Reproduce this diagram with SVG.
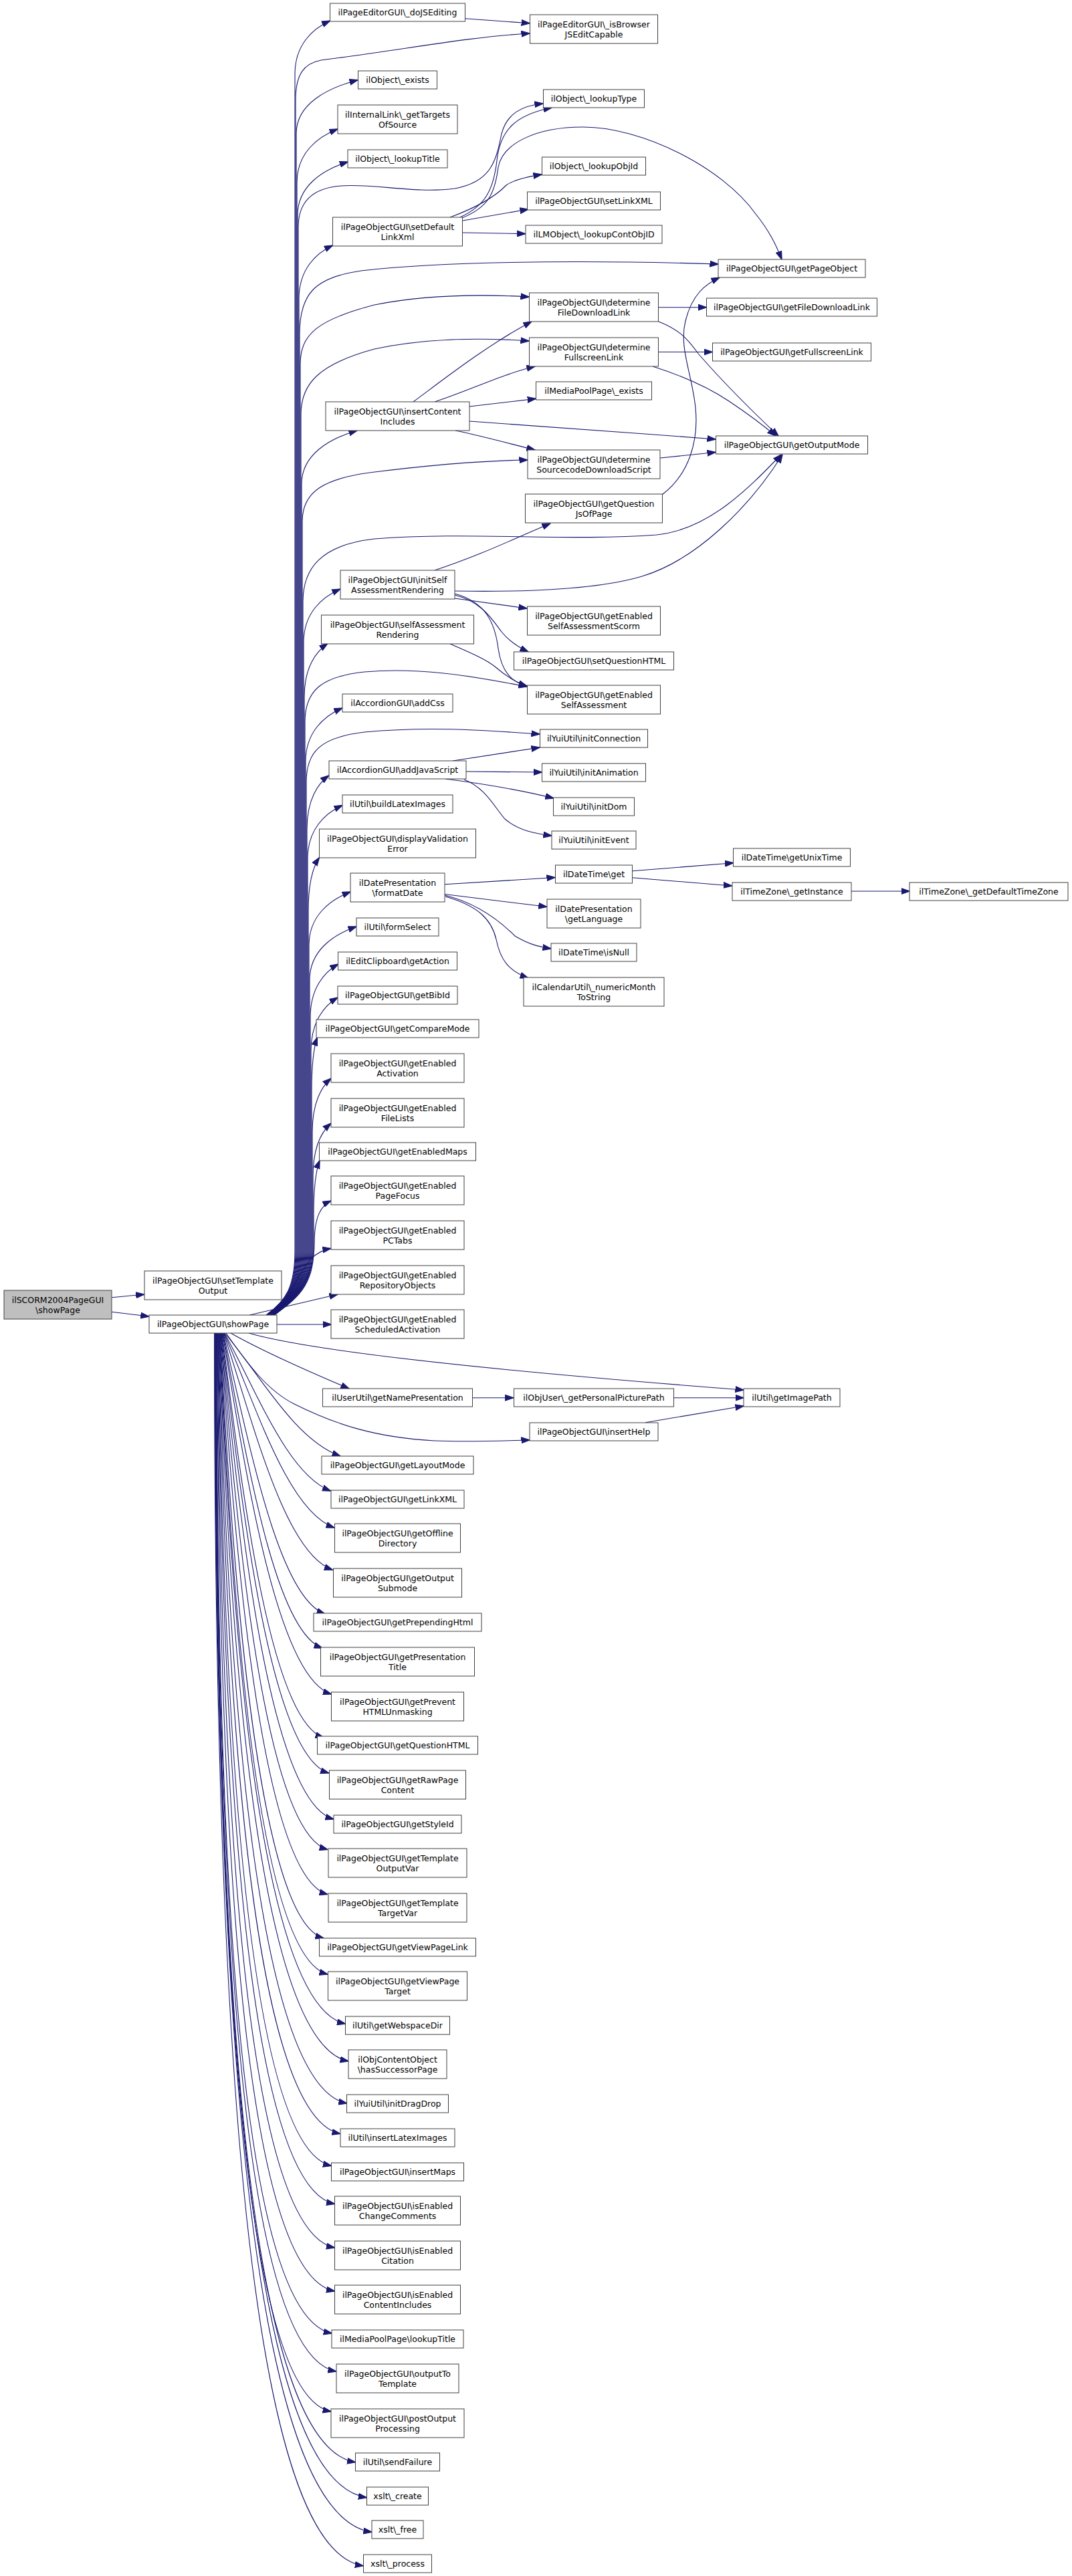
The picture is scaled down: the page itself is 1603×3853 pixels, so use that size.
<svg xmlns="http://www.w3.org/2000/svg" width="1603" height="3853" viewBox="0 0 1603 3853">
<defs>
<marker id="ah" viewBox="0 0 13 10" refX="12.5" refY="5" markerWidth="13" markerHeight="10" markerUnits="userSpaceOnUse" orient="auto"><path d="M0,0.5 L13,5 L0,9.5 Z" fill="#191970" stroke="#191970" stroke-width="1"/></marker>
</defs>
<style>
.n rect{fill:#ffffff;stroke:#404040;stroke-width:1}
.r rect{fill:#bfbfbf;stroke:#404040;stroke-width:1}
text{font-family:"DejaVu Sans","Liberation Sans",sans-serif;font-size:12.5px;text-anchor:middle;fill:#000000}
#edges path{fill:none;stroke:#191970;stroke-width:1.1;marker-end:url(#ah)}
</style>
<rect x="0" y="0" width="1603" height="3853" fill="#ffffff"/>
<g id="edges">
<path d="M167,1940.7 L215.7,1936"/>
<path d="M167,1962.3 L222.7,1969"/>
<path d="M398,1967 C428,1945 441,1925 441,1870 L441,111 C441,67 467.3,43 493.6,31"/>
<path d="M398.5,1967 C428.5,1945 443,1925 443,1870 L443,199.7 C443,155.7 489,131.7 535,119.7"/>
<path d="M399,1967 C429,1945 444,1925 444,1870 L444,273 C444,229 474.5,205 505,193"/>
<path d="M399.5,1967 C429.5,1945 445,1925 445,1870 L445,322 C445,278 482.7,254 520.4,242"/>
<path d="M400.5,1967 C430.5,1945 447,1925 447,1870 L447,447 C447,403 472.2,379 497.4,367"/>
<path d="M402,1967 C432,1945 451,1925 451,1870 L451,724 C451,680 492.5,656 534,644"/>
<path d="M403.5,1967 C433.5,1945 454,1925 454,1870 L454,961 C454,917 481.5,893 508.9,881"/>
<path d="M404,1967 C434,1945 455,1925 455,1870 L455,1042.5 C455,998.5 472.5,974.5 490,962.5"/>
<path d="M404.5,1967 C434.5,1945 457,1925 457,1870 L457,1139 C457,1095 484.5,1071 512,1059"/>
<path d="M405,1967 C435,1945 459,1925 459,1870 L459,1240 C459,1196 475.4,1172 491.7,1160"/>
<path d="M405.5,1967 C435.5,1945 460,1925 460,1870 L460,1284.5 C460,1240.5 486,1216.5 512,1204.5"/>
<path d="M406,1967 C436,1945 461,1925 461,1870 L461,1362.6 C461,1318.6 469.3,1294.6 477.5,1282.6"/>
<path d="M406.5,1967 C436.5,1945 462,1925 462,1870 L462,1414 C462,1370 493.1,1346 524.2,1334"/>
<path d="M407,1967 C437,1945 463,1925 463,1870 L463,1466 C463,1422 498,1398 533,1386"/>
<path d="M407.5,1967 C437.5,1945 464,1925 464,1870 L464,1522 C464,1478 484.9,1454 505.8,1442"/>
<path d="M408,1967 C438,1945 465,1925 465,1870 L465,1572 C465,1528 485,1504 505,1492"/>
<path d="M408.5,1967 C438.5,1945 466,1925 466,1870 L466,1631.8 C466,1587.8 470.2,1563.8 474.4,1551.8"/>
<path d="M409,1967 C439,1945 467,1925 467,1870 L467,1693 C467,1649 481,1625 495,1613"/>
<path d="M409.5,1967 C439.5,1945 468,1925 468,1870 L468,1760 C468,1716 481.5,1692 495,1680"/>
<path d="M410,1967 C440,1945 469,1925 469,1870 L469,1815.7 C469,1771.7 473.5,1747.7 478,1735.7"/>
<path d="M410.5,1967 C440.5,1945 470,1910 470,1860 C470,1820 480,1803 495,1796"/>
<path d="M411,1967 C430,1940 450,1900 465,1883 C475,1873 485,1869 495,1867.4"/>
<path d="M373,1967 L505,1936"/>
<path d="M414,1981 L495.5,1981"/>
<path d="M398.2,1967 C428.2,1945 442,1925 442,1870 L442,150 C442,110 455,95 480,90 C600,75 700,55 792,50"/>
<path d="M400,1967 C430,1945 446,1925 446,1870 L446,340 C446,300 470,281 510,278 C560,274 620,290 680,282 C735,272 742,240 750,200 C758,170 780,158 812,155"/>
<path d="M401,1967 C431,1945 448,1925 448,1870 L448,500 C448,440 470,415 540,405 C650,392 850,388 1074,395"/>
<path d="M401.5,1967 C431.5,1945 449,1925 449,1870 L449,545 C449,500 475,478 560,456 C640,440 720,440 791,444"/>
<path d="M402,1967 C432,1945 450,1925 450,1870 L450,620 C450,575 475,545 560,522 C640,505 720,505 791,510"/>
<path d="M402.5,1967 C432.5,1945 452,1925 452,1870 L452,780 C452,735 485,715 560,706 C640,696 720,689 789,688"/>
<path d="M403,1967 C433,1945 453,1925 453,1870 L453,900 C453,850 480,815 560,806 C700,795 850,810 982,800 C1060,792 1120,730 1168,680"/>
<path d="M404.2,1967 C434.2,1945 456,1925 456,1870 L456,1080 C456,1035 478,1012 545,1005 C625,998 700,1010 788,1027"/>
<path d="M405.2,1967 C435.2,1945 458,1925 458,1870 L458,1170 C458,1125 478,1103 545,1095 C640,1086 720,1092 807,1098"/>
<path d="M695.3,27.7 L792.1,34.8"/>
<path d="M688,325 C725,308 738,285 743,240 C748,195 770,172 825,161"/>
<path d="M691,326 C730,310 740,290 745,250 C752,215 800,190 872,190 C960,190 1080,250 1130,320 C1150,345 1160,365 1169,388"/>
<path d="M673,325 C700,315 735,300 757,277 C770,268 790,264 810,261"/>
<path d="M692,330 L790,313"/>
<path d="M691,348 L785.6,349.6"/>
<path d="M618,601 C660,570 730,515 795,481"/>
<path d="M650,601 C700,585 750,560 800,548"/>
<path d="M702,608 L801.3,596.4"/>
<path d="M702,630 C850,640 950,648 1070,657"/>
<path d="M681,644 C720,652 760,663 800,673"/>
<path d="M984.6,459.7 L1056.5,459.7"/>
<path d="M985,481 C1020,495 1030,510 1045,530 C1080,570 1130,620 1164,652"/>
<path d="M984.6,526.5 L1065.3,526.5"/>
<path d="M976,548 C1020,562 1060,580 1090,600 C1120,620 1140,635 1160,652"/>
<path d="M987,685 L1070,676.5"/>
<path d="M990,740 C1030,710 1045,660 1040,610 C1035,560 1015,520 1025,480 C1035,440 1055,425 1076,415"/>
<path d="M680,884 C800,886 900,880 960,862 C1040,838 1120,760 1170,680"/>
<path d="M650,853 C720,830 770,805 823,783"/>
<path d="M680,895 L788,910"/>
<path d="M680,890 C720,900 735,925 750,945 C762,960 775,968 790,975"/>
<path d="M680,888 C725,900 740,930 745,970 C750,1005 765,1020 788,1026"/>
<path d="M673,963 C700,975 725,985 740,997 C755,1010 770,1020 788,1027"/>
<path d="M677,1138 L807,1118"/>
<path d="M697,1154 L810.5,1155"/>
<path d="M666,1165 C720,1172 780,1182 828,1194"/>
<path d="M694,1166 C725,1178 738,1205 755,1225 C775,1242 800,1247 825,1250"/>
<path d="M665,1322.8 L830,1312.5"/>
<path d="M665,1337.5 L817.7,1356.3"/>
<path d="M665,1339 C710,1350 745,1375 770,1400 C790,1412 805,1416 824,1419"/>
<path d="M666,1341 C715,1355 735,1375 742,1405 C748,1435 760,1452 790,1463"/>
<path d="M945.3,1302.7 L1096.6,1290.7"/>
<path d="M945.3,1312.7 L1094.4,1325"/>
<path d="M1272.7,1333 L1360.2,1333"/>
<path d="M707,2090.7 L767.8,2090.7"/>
<path d="M1007,2090.7 L1112,2090.7"/>
<path d="M965,2127.7 L1112,2103"/>
<path d="M372,1994 C480,2025 800,2055 1112,2079"/>
<path d="M345,1994 C400,2025 470,2055 522,2077"/>
<path d="M338,1994 C370,2040 400,2080 440,2100 C500,2130 560,2150 650,2155 C700,2157 750,2155 792,2154"/>
<path d="M336,1994 C389,2056 440,2153 509,2178"/>
<path d="M335.5,1994 C382,2076 429,2205 494.5,2230"/>
<path d="M335,1994 C381.5,2098 429.4,2260 500,2285"/>
<path d="M334.4,1994 C378,2125 425,2323 497.4,2348"/>
<path d="M333.8,1994 C372,2155 415.6,2389 486,2414"/>
<path d="M333.2,1994 C369,2180 411,2440 482,2465"/>
<path d="M332.7,1994 C369,2214 415,2509 495.5,2534"/>
<path d="M332,1994 C364,2249 406,2574 484,2599"/>
<path d="M331.6,1994 C363,2278 407.5,2627 491.7,2652"/>
<path d="M331,1994 C361,2318 407.6,2696 499,2721"/>
<path d="M330.5,1994 C357.5,2345 401.3,2741.5 490,2766.5"/>
<path d="M330,1994 C354.6,2387 398.2,2808.5 490,2833.5"/>
<path d="M329.4,1994 C351,2429 392.6,2874 484,2899"/>
<path d="M328.9,1994 C349.2,2466 392.4,2928 490,2953"/>
<path d="M328.3,1994 C348.8,2518 398.7,3002 516.5,3027"/>
<path d="M327.8,1994 C346.3,2558 397.3,3058 521,3083"/>
<path d="M327.2,1994 C342.8,2605 392.9,3121 518.8,3146"/>
<path d="M326.7,1994 C339.6,2640 387,3166.5 508.9,3191.5"/>
<path d="M326.1,1994 C336.2,2678 380,3214.4 495.5,3239.4"/>
<path d="M325.6,1994 C333.7,2723.5 378.6,3271.5 500.5,3296.5"/>
<path d="M325,1994 C330.4,2779 375,3337 500.5,3362"/>
<path d="M324.5,1994 C327.3,2834 371.7,3402 500.5,3427"/>
<path d="M323.9,1994 C323.9,2891.6 367,3465 496.3,3490"/>
<path d="M323.4,1994 C323.4,2925.8 368.3,3522 502.8,3547"/>
<path d="M322.8,1994 C322.8,2961.8 365.8,3582 495,3607"/>
<path d="M322.3,1994 C322.3,3007.3 374.6,3657.8 531.5,3682.8"/>
<path d="M321.7,1994 C321.7,3039 378.4,3710.6 548.3,3735.6"/>
<path d="M321.2,1994 C321.2,3070 379.9,3762.3 556,3787.3"/>
<path d="M320.6,1994 C320.6,3100.3 376.3,3812.8 543.3,3837.8"/>
</g>
<g id="root" class="r"><rect x="6" y="1930" width="161" height="43"/><text x="86.5" y="1948.5">ilSCORM2004PageGUI</text><text x="86.5" y="1964">\showPage</text></g>
<g id="setTemplateOutput" class="n"><rect x="216" y="1901" width="205" height="43"/><text x="318.5" y="1919.5">ilPageObjectGUI\setTemplate</text><text x="318.5" y="1935">Output</text></g>
<g id="showPage" class="n"><rect x="223" y="1967" width="191" height="27"/><text x="318.5" y="1985">ilPageObjectGUI\showPage</text></g>
<g id="doJSEditing" class="n"><rect x="493.5" y="5" width="202" height="27"/><text x="594.5" y="23">ilPageEditorGUI\_doJSEditing</text></g>
<g id="objExists" class="n"><rect x="535.5" y="106" width="118" height="27"/><text x="594.5" y="124">ilObject\_exists</text></g>
<g id="getTargetsOfSource" class="n"><rect x="505" y="157" width="179" height="43"/><text x="594.5" y="175.5">ilInternalLink\_getTargets</text><text x="594.5" y="191">OfSource</text></g>
<g id="lookupTitle" class="n"><rect x="520" y="224" width="149" height="27"/><text x="594.5" y="242">ilObject\_lookupTitle</text></g>
<g id="setDefaultLinkXml" class="n"><rect x="497.5" y="325" width="194" height="43"/><text x="594.5" y="343.5">ilPageObjectGUI\setDefault</text><text x="594.5" y="359">LinkXml</text></g>
<g id="insertContentIncludes" class="n"><rect x="487" y="601" width="215" height="43"/><text x="594.5" y="619.5">ilPageObjectGUI\insertContent</text><text x="594.5" y="635">Includes</text></g>
<g id="initSelfAssessmentRendering" class="n"><rect x="509" y="853" width="171" height="43"/><text x="594.5" y="871.5">ilPageObjectGUI\initSelf</text><text x="594.5" y="887">AssessmentRendering</text></g>
<g id="selfAssessmentRendering" class="n"><rect x="480.5" y="920" width="228" height="43"/><text x="594.5" y="938.5">ilPageObjectGUI\selfAssessment</text><text x="594.5" y="954">Rendering</text></g>
<g id="addCss" class="n"><rect x="512" y="1038" width="165" height="27"/><text x="594.5" y="1056">ilAccordionGUI\addCss</text></g>
<g id="addJavaScript" class="n"><rect x="492" y="1138" width="205" height="27"/><text x="594.5" y="1156">ilAccordionGUI\addJavaScript</text></g>
<g id="buildLatexImages" class="n"><rect x="512" y="1189" width="165" height="27"/><text x="594.5" y="1207">ilUtil\buildLatexImages</text></g>
<g id="displayValidationError" class="n"><rect x="477.5" y="1240" width="234" height="43"/><text x="594.5" y="1258.5">ilPageObjectGUI\displayValidation</text><text x="594.5" y="1274">Error</text></g>
<g id="formatDate" class="n"><rect x="524" y="1306" width="141" height="43"/><text x="594.5" y="1324.5">ilDatePresentation</text><text x="594.5" y="1340">\formatDate</text></g>
<g id="formSelect" class="n"><rect x="533" y="1373" width="123" height="27"/><text x="594.5" y="1391">ilUtil\formSelect</text></g>
<g id="getAction" class="n"><rect x="505.5" y="1424" width="178" height="27"/><text x="594.5" y="1442">ilEditClipboard\getAction</text></g>
<g id="getBibId" class="n"><rect x="505" y="1475" width="179" height="27"/><text x="594.5" y="1493">ilPageObjectGUI\getBibId</text></g>
<g id="getCompareMode" class="n"><rect x="473" y="1525" width="243" height="27"/><text x="594.5" y="1543">ilPageObjectGUI\getCompareMode</text></g>
<g id="getEnabledActivation" class="n"><rect x="495" y="1576" width="199" height="43"/><text x="594.5" y="1594.5">ilPageObjectGUI\getEnabled</text><text x="594.5" y="1610">Activation</text></g>
<g id="getEnabledFileLists" class="n"><rect x="495" y="1643" width="199" height="43"/><text x="594.5" y="1661.5">ilPageObjectGUI\getEnabled</text><text x="594.5" y="1677">FileLists</text></g>
<g id="getEnabledMaps" class="n"><rect x="477.5" y="1709" width="234" height="27"/><text x="594.5" y="1727">ilPageObjectGUI\getEnabledMaps</text></g>
<g id="getEnabledPageFocus" class="n"><rect x="495" y="1759" width="199" height="43"/><text x="594.5" y="1777.5">ilPageObjectGUI\getEnabled</text><text x="594.5" y="1793">PageFocus</text></g>
<g id="getEnabledPCTabs" class="n"><rect x="495" y="1826" width="199" height="43"/><text x="594.5" y="1844.5">ilPageObjectGUI\getEnabled</text><text x="594.5" y="1860">PCTabs</text></g>
<g id="getEnabledRepositoryObjects" class="n"><rect x="495" y="1893" width="199" height="43"/><text x="594.5" y="1911.5">ilPageObjectGUI\getEnabled</text><text x="594.5" y="1927">RepositoryObjects</text></g>
<g id="getEnabledScheduledActivation" class="n"><rect x="495" y="1959" width="199" height="43"/><text x="594.5" y="1977.5">ilPageObjectGUI\getEnabled</text><text x="594.5" y="1993">ScheduledActivation</text></g>
<g id="getNamePresentation" class="n"><rect x="482.5" y="2077" width="224" height="27"/><text x="594.5" y="2095">ilUserUtil\getNamePresentation</text></g>
<g id="getLayoutMode" class="n"><rect x="481" y="2178" width="227" height="27"/><text x="594.5" y="2196">ilPageObjectGUI\getLayoutMode</text></g>
<g id="getLinkXML" class="n"><rect x="495" y="2229" width="199" height="27"/><text x="594.5" y="2247">ilPageObjectGUI\getLinkXML</text></g>
<g id="getOfflineDirectory" class="n"><rect x="500.5" y="2279" width="188" height="43"/><text x="594.5" y="2297.5">ilPageObjectGUI\getOffline</text><text x="594.5" y="2313">Directory</text></g>
<g id="getOutputSubmode" class="n"><rect x="498.5" y="2346" width="192" height="43"/><text x="594.5" y="2364.5">ilPageObjectGUI\getOutput</text><text x="594.5" y="2380">Submode</text></g>
<g id="getPrependingHtml" class="n"><rect x="469" y="2413" width="251" height="27"/><text x="594.5" y="2431">ilPageObjectGUI\getPrependingHtml</text></g>
<g id="getPresentationTitle" class="n"><rect x="479.5" y="2464" width="230" height="43"/><text x="594.5" y="2482.5">ilPageObjectGUI\getPresentation</text><text x="594.5" y="2498">Title</text></g>
<g id="getPreventHTMLUnmasking" class="n"><rect x="495.5" y="2531" width="198" height="43"/><text x="594.5" y="2549.5">ilPageObjectGUI\getPrevent</text><text x="594.5" y="2565">HTMLUnmasking</text></g>
<g id="getQuestionHTML" class="n"><rect x="474.5" y="2597" width="240" height="27"/><text x="594.5" y="2615">ilPageObjectGUI\getQuestionHTML</text></g>
<g id="getRawPageContent" class="n"><rect x="492.5" y="2648" width="204" height="43"/><text x="594.5" y="2666.5">ilPageObjectGUI\getRawPage</text><text x="594.5" y="2682">Content</text></g>
<g id="getStyleId" class="n"><rect x="499" y="2715" width="191" height="27"/><text x="594.5" y="2733">ilPageObjectGUI\getStyleId</text></g>
<g id="getTemplateOutputVar" class="n"><rect x="491" y="2765" width="207" height="43"/><text x="594.5" y="2783.5">ilPageObjectGUI\getTemplate</text><text x="594.5" y="2799">OutputVar</text></g>
<g id="getTemplateTargetVar" class="n"><rect x="491" y="2832" width="207" height="43"/><text x="594.5" y="2850.5">ilPageObjectGUI\getTemplate</text><text x="594.5" y="2866">TargetVar</text></g>
<g id="getViewPageLink" class="n"><rect x="477.5" y="2899" width="234" height="27"/><text x="594.5" y="2917">ilPageObjectGUI\getViewPageLink</text></g>
<g id="getViewPageTarget" class="n"><rect x="490.5" y="2949" width="208" height="43"/><text x="594.5" y="2967.5">ilPageObjectGUI\getViewPage</text><text x="594.5" y="2983">Target</text></g>
<g id="getWebspaceDir" class="n"><rect x="516.5" y="3016" width="156" height="27"/><text x="594.5" y="3034">ilUtil\getWebspaceDir</text></g>
<g id="hasSuccessorPage" class="n"><rect x="521" y="3066" width="147" height="43"/><text x="594.5" y="3084.5">ilObjContentObject</text><text x="594.5" y="3100">\hasSuccessorPage</text></g>
<g id="initDragDrop" class="n"><rect x="518.5" y="3133" width="152" height="27"/><text x="594.5" y="3151">ilYuiUtil\initDragDrop</text></g>
<g id="insertLatexImages" class="n"><rect x="509" y="3184" width="171" height="27"/><text x="594.5" y="3202">ilUtil\insertLatexImages</text></g>
<g id="insertMaps" class="n"><rect x="495.5" y="3235" width="198" height="27"/><text x="594.5" y="3253">ilPageObjectGUI\insertMaps</text></g>
<g id="isEnabledChangeComments" class="n"><rect x="500.5" y="3285" width="188" height="43"/><text x="594.5" y="3303.5">ilPageObjectGUI\isEnabled</text><text x="594.5" y="3319">ChangeComments</text></g>
<g id="isEnabledCitation" class="n"><rect x="500.5" y="3352" width="188" height="43"/><text x="594.5" y="3370.5">ilPageObjectGUI\isEnabled</text><text x="594.5" y="3386">Citation</text></g>
<g id="isEnabledContentIncludes" class="n"><rect x="500.5" y="3418" width="188" height="43"/><text x="594.5" y="3436.5">ilPageObjectGUI\isEnabled</text><text x="594.5" y="3452">ContentIncludes</text></g>
<g id="mpLookupTitle" class="n"><rect x="496" y="3485" width="197" height="27"/><text x="594.5" y="3503">ilMediaPoolPage\lookupTitle</text></g>
<g id="outputToTemplate" class="n"><rect x="503" y="3536" width="183" height="43"/><text x="594.5" y="3554.5">ilPageObjectGUI\outputTo</text><text x="594.5" y="3570">Template</text></g>
<g id="postOutputProcessing" class="n"><rect x="495" y="3603" width="199" height="43"/><text x="594.5" y="3621.5">ilPageObjectGUI\postOutput</text><text x="594.5" y="3637">Processing</text></g>
<g id="sendFailure" class="n"><rect x="531.5" y="3669" width="126" height="27"/><text x="594.5" y="3687">ilUtil\sendFailure</text></g>
<g id="xsltCreate" class="n"><rect x="548.5" y="3720" width="92" height="27"/><text x="594.5" y="3738">xslt\_create</text></g>
<g id="xsltFree" class="n"><rect x="556" y="3770" width="77" height="27"/><text x="594.5" y="3788">xslt\_free</text></g>
<g id="xsltProcess" class="n"><rect x="543.5" y="3821" width="102" height="27"/><text x="594.5" y="3839">xslt\_process</text></g>
<g id="isBrowserJSEditCapable" class="n"><rect x="792.5" y="22" width="191" height="43"/><text x="888" y="40.5">ilPageEditorGUI\_isBrowser</text><text x="888" y="56">JSEditCapable</text></g>
<g id="lookupType" class="n"><rect x="812.5" y="134" width="151" height="27"/><text x="888" y="152">ilObject\_lookupType</text></g>
<g id="lookupObjId" class="n"><rect x="810.5" y="235" width="155" height="27"/><text x="888" y="253">ilObject\_lookupObjId</text></g>
<g id="setLinkXML" class="n"><rect x="788.5" y="287" width="199" height="27"/><text x="888" y="305">ilPageObjectGUI\setLinkXML</text></g>
<g id="lookupContObjID" class="n"><rect x="786" y="337" width="204" height="27"/><text x="888" y="355">ilLMObject\_lookupContObjID</text></g>
<g id="determineFileDownloadLink" class="n"><rect x="791.5" y="438" width="193" height="43"/><text x="888" y="456.5">ilPageObjectGUI\determine</text><text x="888" y="472">FileDownloadLink</text></g>
<g id="determineFullscreenLink" class="n"><rect x="791.5" y="505" width="193" height="43"/><text x="888" y="523.5">ilPageObjectGUI\determine</text><text x="888" y="539">FullscreenLink</text></g>
<g id="mpExists" class="n"><rect x="801.5" y="571" width="173" height="27"/><text x="888" y="589">ilMediaPoolPage\_exists</text></g>
<g id="determineSourcecodeDownloadScript" class="n"><rect x="789" y="673" width="198" height="43"/><text x="888" y="691.5">ilPageObjectGUI\determine</text><text x="888" y="707">SourcecodeDownloadScript</text></g>
<g id="getQuestionJsOfPage" class="n"><rect x="785.5" y="739" width="205" height="43"/><text x="888" y="757.5">ilPageObjectGUI\getQuestion</text><text x="888" y="773">JsOfPage</text></g>
<g id="getEnabledSelfAssessmentScorm" class="n"><rect x="788.5" y="907" width="199" height="43"/><text x="888" y="925.5">ilPageObjectGUI\getEnabled</text><text x="888" y="941">SelfAssessmentScorm</text></g>
<g id="setQuestionHTML" class="n"><rect x="768.5" y="975" width="239" height="27"/><text x="888" y="993">ilPageObjectGUI\setQuestionHTML</text></g>
<g id="getEnabledSelfAssessment" class="n"><rect x="788.5" y="1025" width="199" height="43"/><text x="888" y="1043.5">ilPageObjectGUI\getEnabled</text><text x="888" y="1059">SelfAssessment</text></g>
<g id="initConnection" class="n"><rect x="807.5" y="1091" width="161" height="27"/><text x="888" y="1109">ilYuiUtil\initConnection</text></g>
<g id="initAnimation" class="n"><rect x="810.5" y="1142" width="155" height="27"/><text x="888" y="1160">ilYuiUtil\initAnimation</text></g>
<g id="initDom" class="n"><rect x="827.5" y="1193" width="121" height="27"/><text x="888" y="1211">ilYuiUtil\initDom</text></g>
<g id="initEvent" class="n"><rect x="825" y="1243" width="126" height="27"/><text x="888" y="1261">ilYuiUtil\initEvent</text></g>
<g id="dateTimeGet" class="n"><rect x="830.5" y="1294" width="115" height="27"/><text x="888" y="1312">ilDateTime\get</text></g>
<g id="getLanguage" class="n"><rect x="818" y="1345" width="140" height="43"/><text x="888" y="1363.5">ilDatePresentation</text><text x="888" y="1379">\getLanguage</text></g>
<g id="isNull" class="n"><rect x="824" y="1411" width="128" height="27"/><text x="888" y="1429">ilDateTime\isNull</text></g>
<g id="numericMonthToString" class="n"><rect x="783" y="1462" width="210" height="43"/><text x="888" y="1480.5">ilCalendarUtil\_numericMonth</text><text x="888" y="1496">ToString</text></g>
<g id="getPersonalPicturePath" class="n"><rect x="768.5" y="2077" width="239" height="27"/><text x="888" y="2095">ilObjUser\_getPersonalPicturePath</text></g>
<g id="insertHelp" class="n"><rect x="792" y="2128" width="192" height="27"/><text x="888" y="2146">ilPageObjectGUI\insertHelp</text></g>
<g id="getPageObject" class="n"><rect x="1074" y="388" width="220" height="27"/><text x="1184" y="406">ilPageObjectGUI\getPageObject</text></g>
<g id="getFileDownloadLink" class="n"><rect x="1056.5" y="446" width="255" height="27"/><text x="1184" y="464">ilPageObjectGUI\getFileDownloadLink</text></g>
<g id="getFullscreenLink" class="n"><rect x="1065.5" y="513" width="237" height="27"/><text x="1184" y="531">ilPageObjectGUI\getFullscreenLink</text></g>
<g id="getOutputMode" class="n"><rect x="1070.5" y="652" width="227" height="27"/><text x="1184" y="670">ilPageObjectGUI\getOutputMode</text></g>
<g id="getUnixTime" class="n"><rect x="1096.5" y="1269" width="175" height="27"/><text x="1184" y="1287">ilDateTime\getUnixTime</text></g>
<g id="getInstance" class="n"><rect x="1095" y="1320" width="178" height="27"/><text x="1184" y="1338">ilTimeZone\_getInstance</text></g>
<g id="getImagePath" class="n"><rect x="1112" y="2077" width="144" height="27"/><text x="1184" y="2095">ilUtil\getImagePath</text></g>
<g id="getDefaultTimeZone" class="n"><rect x="1360" y="1320" width="237" height="27"/><text x="1478.5" y="1338">ilTimeZone\_getDefaultTimeZone</text></g>
</svg>
